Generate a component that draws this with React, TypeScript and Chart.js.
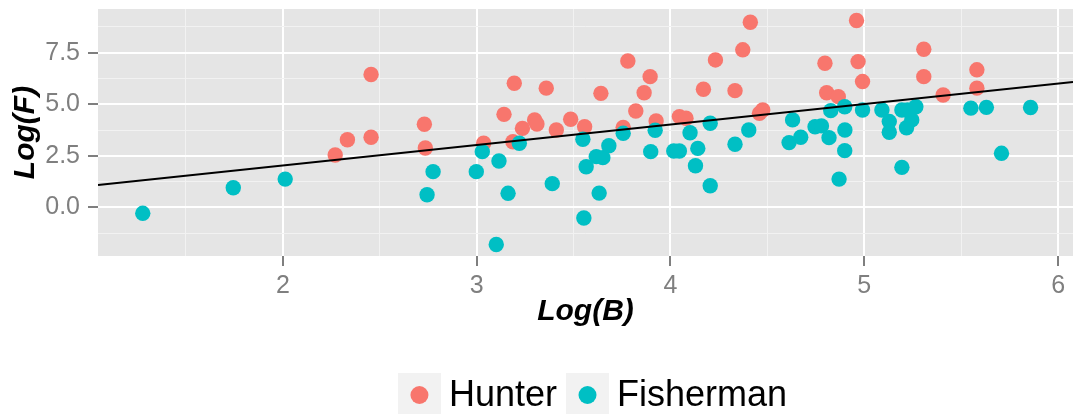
import React, { useEffect, useRef } from 'react';
import { Chart, registerables } from 'chart.js';

Chart.register(...registerables);

// ---- Data ----
const seriesNames = ['Hunter', 'Fisherman'];
const seriesColors = ['#F8766D', '#00BFC4'];

const hunterX = [2.27, 2.333, 2.455, 2.455, 2.73, 2.735, 3.036, 3.141, 3.194, 3.187, 3.236, 3.299, 3.311, 3.359, 3.411, 3.485, 3.557, 3.641, 3.756, 3.78, 3.821, 3.864, 3.895, 3.926, 4.046, 4.08, 4.17, 4.412, 4.373, 4.232, 4.333, 4.459, 4.476, 4.797, 4.806, 4.866, 4.96, 4.968, 4.991, 5.307, 5.307, 5.407, 5.581, 5.581];
const hunterY = [2.54, 3.28, 6.44, 3.4, 4.03, 2.88, 3.11, 4.51, 6.02, 3.18, 3.83, 4.24, 4.04, 5.78, 3.75, 4.27, 3.91, 5.53, 3.88, 7.1, 4.67, 5.56, 6.34, 4.19, 4.4, 4.32, 5.73, 8.98, 7.64, 7.15, 5.66, 4.56, 4.72, 6.99, 5.56, 5.37, 9.06, 7.07, 6.1, 7.67, 6.34, 5.45, 6.67, 5.78];

const fisherX = [1.277, 1.744, 2.012, 2.775, 2.744, 2.998, 3.029, 3.115, 3.101, 3.162, 3.22, 3.39, 3.548, 3.565, 3.553, 3.617, 3.651, 3.682, 3.632, 3.756, 3.898, 3.921, 4.017, 4.046, 4.101, 4.141, 4.129, 4.205, 4.205, 4.333, 4.404, 4.63, 4.612, 4.672, 4.746, 4.779, 4.818, 4.827, 4.899, 4.9, 4.899, 4.87, 4.991, 5.091, 5.129, 5.129, 5.194, 5.223, 5.245, 5.218, 5.266, 5.194, 5.55, 5.63, 5.708, 5.858];
const fisherY = [-0.29, 0.95, 1.37, 1.73, 0.61, 1.73, 2.7, 2.25, -1.8, 0.68, 3.11, 1.15, 3.3, 1.97, -0.52, 2.46, 2.41, 2.99, 0.69, 3.59, 2.7, 3.74, 2.73, 2.73, 3.62, 2.86, 2.02, 4.08, 1.05, 3.06, 3.75, 4.24, 3.14, 3.4, 3.91, 3.95, 3.38, 4.69, 4.88, 3.75, 2.75, 1.37, 4.72, 4.72, 4.16, 3.64, 4.72, 4.72, 4.24, 3.86, 4.88, 1.94, 4.81, 4.85, 2.62, 4.84];

const fitX = [1.046, 6.077];
const fitY = [1.08, 6.08];

const xRange = [1.046, 6.077];
const yRange = [-2.36, 9.62];
const xMajorTicks = [2, 3, 4, 5, 6];
const xMinorTicks = [1.5, 2.5, 3.5, 4.5, 5.5];
const yMajorTicks = [0, 2.5, 5, 7.5];
const yMinorTicks = [-1.25, 1.25, 3.75, 6.25, 8.75];

const xTitle = 'Log(B)';
const yTitle = 'Log(F)';

const FONT = '"Liberation Sans", Arial, Helvetica, sans-serif';

const toPoints = (xs: number[], ys: number[]) => xs.map((x, i) => ({ x, y: ys[i] }));

const isMajor = (v: number, majors: number[]) => majors.some((m) => Math.abs(m - v) < 1e-9);

const panelBg = {
  id: 'panelBg',
  beforeDraw(chart: any) {
    const { ctx, chartArea: a } = chart;
    ctx.save();
    ctx.fillStyle = '#E5E5E5';
    ctx.fillRect(a.left, a.top, a.right - a.left, a.bottom - a.top);
    ctx.restore();
  },
};

const ggLegend = {
  id: 'ggLegend',
  afterDraw(chart: any) {
    const ctx = chart.ctx;
    const items = chart.data.datasets.filter((d: any) => d.inLegend);
    ctx.save();
    ctx.font = '36px ' + FONT;
    const keyW = 43;
    const keyH = 44;
    const gapText = 8;
    const gapItem = 9;
    let total = 0;
    items.forEach((d: any, i: number) => {
      total += keyW + gapText + ctx.measureText(d.label).width;
      if (i < items.length - 1) total += gapItem;
    });
    const a = chart.chartArea;
    const cx = (a.left + a.right) / 2 + 7;
    const cy = chart.height - 19;
    let x = cx - total / 2;
    items.forEach((d: any) => {
      ctx.fillStyle = '#F2F2F2';
      ctx.fillRect(x, cy - 22, keyW, keyH);
      ctx.beginPath();
      ctx.fillStyle = d.backgroundColor;
      ctx.arc(x + keyW / 2, cy, 9, 0, Math.PI * 2);
      ctx.fill();
      ctx.fillStyle = '#000000';
      ctx.textBaseline = 'middle';
      ctx.textAlign = 'left';
      ctx.fillText(d.label, x + keyW + gapText, cy + 1);
      x += keyW + gapText + ctx.measureText(d.label).width + gapItem;
    });
    ctx.restore();
  },
};

export default function App() {
  const ref = useRef<HTMLCanvasElement | null>(null);

  useEffect(() => {
    if (!ref.current) return;
    const chart = new Chart(ref.current, {
      type: 'scatter',
      data: {
        datasets: [
          {
            label: seriesNames[0],
            data: toPoints(hunterX, hunterY),
            backgroundColor: seriesColors[0],
            borderWidth: 0,
            pointRadius: 7.7,
            order: 2,
            inLegend: true,
          } as any,
          {
            label: seriesNames[1],
            data: toPoints(fisherX, fisherY),
            backgroundColor: seriesColors[1],
            borderWidth: 0,
            pointRadius: 7.7,
            order: 1,
            inLegend: true,
          } as any,
          {
            type: 'line',
            label: 'fit',
            data: toPoints(fitX, fitY),
            borderColor: '#000000',
            borderWidth: 2,
            pointRadius: 0,
            showLine: true,
            fill: false,
            order: 0,
          } as any,
        ],
      },
      options: {
        animation: false,
        responsive: false,
        maintainAspectRatio: false,
        layout: { autoPadding: false, padding: { top: 9, right: 0, left: 0, bottom: 84 } },
        plugins: {
          legend: { display: false },
          tooltip: { enabled: false },
          title: { display: false },
        },
        scales: {
          x: {
            type: 'linear',
            min: xRange[0],
            max: xRange[1],
            afterBuildTicks: (s: any) => {
              s.ticks = [...xMinorTicks, ...xMajorTicks].sort((p, q) => p - q).map((v) => ({ value: v }));
            },
            afterFit: (s: any) => {
              s.height = 74;
              s.paddingLeft = 0;
              s.paddingRight = 0;
              s.paddingTop = 0;
              s.paddingBottom = 0;
            },
            ticks: {
              autoSkip: false,
              maxRotation: 0,
              padding: 5,
              color: '#7F7F7F',
              font: { size: 25, family: FONT },
              callback: (v: any) => (isMajor(Number(v), xMajorTicks) ? String(v) : ''),
            },
            grid: {
              color: (c: any) => (isMajor(c.tick?.value, xMajorTicks) ? '#FFFFFF' : '#F2F2F2'),
              lineWidth: (c: any) => (isMajor(c.tick?.value, xMajorTicks) ? 2 : 1),
              tickColor: (c: any) => (isMajor(c.tick?.value, xMajorTicks) ? '#7F7F7F' : 'rgba(0,0,0,0)'),
              tickWidth: 2,
              tickLength: 10,
              drawTicks: true,
            },
            border: { display: false },
            title: {
              display: true,
              text: xTitle,
              color: '#000000',
              font: { size: 30, family: FONT, weight: 'bold', style: 'italic' },
              padding: { top: 0, bottom: 0 },
            },
          },
          y: {
            type: 'linear',
            min: yRange[0],
            max: yRange[1],
            afterBuildTicks: (s: any) => {
              s.ticks = [...yMinorTicks, ...yMajorTicks].sort((p, q) => p - q).map((v) => ({ value: v }));
            },
            afterFit: (s: any) => {
              s.width = 98;
              s.paddingLeft = 0;
              s.paddingRight = 0;
              s.paddingTop = 0;
              s.paddingBottom = 0;
            },
            ticks: {
              autoSkip: false,
              padding: 8,
              color: '#7F7F7F',
              font: { size: 25, family: FONT },
              callback: (v: any) => (isMajor(Number(v), yMajorTicks) ? Number(v).toFixed(1) : ''),
            },
            grid: {
              color: (c: any) => (isMajor(c.tick?.value, yMajorTicks) ? '#FFFFFF' : '#F2F2F2'),
              lineWidth: (c: any) => (isMajor(c.tick?.value, yMajorTicks) ? 2 : 1),
              tickColor: (c: any) => (isMajor(c.tick?.value, yMajorTicks) ? '#7F7F7F' : 'rgba(0,0,0,0)'),
              tickWidth: 2,
              tickLength: 10,
              drawTicks: true,
            },
            border: { display: false },
            title: {
              display: true,
              text: yTitle,
              color: '#000000',
              font: { size: 30, family: FONT, weight: 'bold', style: 'italic' },
              padding: { top: 8, bottom: 0 },
            },
          },
        },
      } as any,
      plugins: [panelBg, ggLegend],
    });
    return () => chart.destroy();
  }, []);

  return (
    <div style={{ position: 'fixed', left: 0, top: 0, width: 1073, height: 414, background: '#ffffff' }}>
      <canvas ref={ref} width={1073} height={414} style={{ display: 'block', width: 1073, height: 414 }} />
    </div>
  );
}
